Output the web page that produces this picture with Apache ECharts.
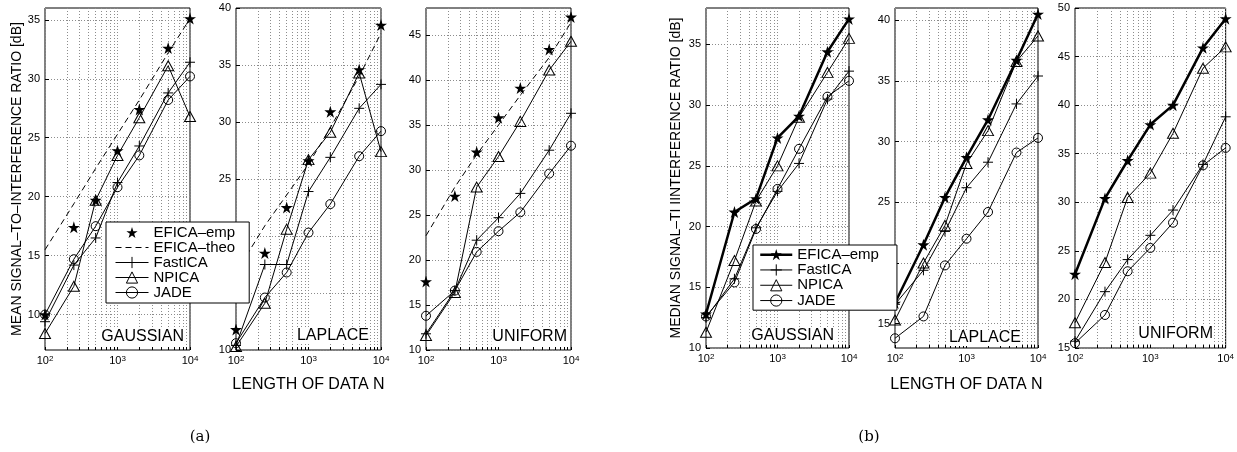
<!DOCTYPE html>
<html>
<head>
<meta charset="utf-8">
<script src="https://cdn.jsdelivr.net/npm/echarts@6/dist/echarts.min.js"></script>
<style>
  html, body { margin: 0; padding: 0; background: #fff; }
  #chart { width: 1237px; height: 452px; }
</style>
</head>
<body>
<div id="chart"></div>
<script>
// length of data N (x axis is log10)
const dataLength = [100, 250, 500, 1000, 2000, 5000, 10000]
const xTickValues = [100, 200, 300, 400, 500, 600, 700, 800, 900, 1000,
  2000, 3000, 4000, 5000, 6000, 7000, 8000, 9000, 10000]
const xLabelValues = [100, 1000, 10000]
const panelNames = ['GAUSSIAN', 'LAPLACE', 'UNIFORM']

// (a) mean SIR [dB]
const meanGaussEmp = [10.0, 17.4, 19.7, 23.9, 27.4, 32.6, 35.1]
const meanGaussTheo = [15.5, 19.4, 22.4, 25.3, 28.2, 32.2, 35.1]
const meanGaussFast = [9.4, 14.2, 16.5, 21.2, 24.3, 28.8, 31.4]
const meanGaussNpica = [8.4, 12.4, 19.7, 23.5, 26.7, 31.1, 26.8]
const meanGaussJade = [10.0, 14.7, 17.5, 20.8, 23.5, 28.2, 30.2]

const meanLaplEmp = [11.8, 18.5, 22.5, 26.6, 30.9, 34.6, 38.5]
const meanLaplTheo = [16.8, 20.9, 23.6, 26.3, 29.5, 34.0, 37.8]
const meanLaplFast = [10.4, 17.5, 17.5, 23.9, 26.9, 31.2, 33.3]
const meanLaplNpica = [10.3, 14.1, 20.6, 26.7, 29.1, 34.3, 27.4]
const meanLaplJade = [10.6, 14.6, 16.8, 20.3, 22.8, 27.0, 29.2]

const meanUnifEmp = [17.6, 27.1, 32.0, 35.8, 39.1, 43.4, 47.0]
const meanUnifTheo = [22.7, 28.1, 31.7, 35.0, 38.3, 42.5, 46.4]
const meanUnifFast = [11.8, 16.6, 22.2, 24.7, 27.4, 32.2, 36.3]
const meanUnifNpica = [11.6, 16.4, 28.1, 31.5, 35.4, 41.1, 44.3]
const meanUnifJade = [13.8, 16.6, 20.9, 23.2, 25.3, 29.6, 32.7]

// (b) median SIR [dB]
const medGaussEmp = [12.8, 21.2, 22.3, 27.3, 29.1, 34.4, 37.1]
const medGaussFast = [12.5, 15.7, 19.9, 22.9, 25.2, 30.5, 32.8]
const medGaussNpica = [11.3, 17.2, 22.1, 25.0, 29.0, 32.7, 35.5]
const medGaussJade = [12.6, 15.4, 19.8, 23.1, 26.4, 30.7, 32.0]

const medLaplEmp = [16.7, 21.5, 25.4, 28.7, 31.8, 36.7, 40.5]
const medLaplFast = [16.6, 19.4, 22.6, 26.2, 28.3, 33.1, 35.4]
const medLaplNpica = [15.3, 20.0, 23.1, 28.2, 30.9, 36.6, 38.7]
const medLaplJade = [13.8, 15.6, 19.8, 22.0, 24.2, 29.1, 30.3]

const medUnifEmp = [22.6, 30.4, 34.3, 38.0, 40.0, 45.9, 48.9]
const medUnifFast = [15.7, 20.8, 24.1, 26.6, 29.2, 33.9, 38.8]
const medUnifNpica = [17.6, 23.8, 30.5, 33.0, 37.1, 43.8, 46.0]
const medUnifJade = [15.5, 18.4, 22.9, 25.3, 27.9, 33.8, 35.6]

// y ranges and ticks per panel
const yRanges = [[7, 36], [10, 40], [10, 48], [10, 38], [13, 41], [15, 50]]
const yTicks = [
  [10, 15, 20, 25, 30, 35],
  [10, 15, 20, 25, 30, 35, 40],
  [10, 15, 20, 25, 30, 35, 40, 45],
  [10, 15, 20, 25, 30, 35],
  [15, 20, 25, 30, 35, 40],
  [15, 20, 25, 30, 35, 40, 45, 50],
]

const FONT = '"Liberation Sans", Arial, Helvetica, sans-serif'
const STAR = 'path://M50,0L61.2,34.5L97.6,34.5L68.2,55.9L79.4,90.5L50,69.1L20.6,90.5L31.8,55.9L2.4,34.5L38.8,34.5Z'
const PLUS = 'path://M0,50L100,50M50,0L50,100'
const EMP = 'EFICA–emp'
const THEO = 'EFICA–theo'

const grids = [
  { left: 45, top: 8, width: 145, height: 342 },
  { left: 236, top: 8, width: 145, height: 342 },
  { left: 426, top: 8, width: 145, height: 342 },
  { left: 706, top: 8, width: 143, height: 340 },
  { left: 895, top: 8, width: 143, height: 340 },
  { left: 1075, top: 8, width: 153, height: 340 },
]

const lg = n => +Math.log10(n).toFixed(6)

const markStyle = {
  [EMP]: { symbol: STAR, size: 12, fill: '#000', border: 0 },
  [THEO]: { symbol: 'none', size: 0, fill: '#000', border: 0, dash: true },
  FastICA: { symbol: PLUS, size: 10, fill: '#000', border: 1 },
  NPICA: { symbol: 'triangle', size: [11, 10], fill: 'rgba(0,0,0,0)', border: 1 },
  JADE: { symbol: 'circle', size: 9, fill: 'rgba(0,0,0,0)', border: 1 },
}

function line (name, values, p, width) {
  const st = markStyle[name]
  return {
    type: 'line',
    name,
    xAxisIndex: p,
    yAxisIndex: p,
    data: dataLength.map((n, i) => [lg(n), values[i]]),
    symbol: st.symbol,
    symbolSize: st.size,
    showSymbol: st.symbol !== 'none',
    showAllSymbol: true,
    clip: false,
    silent: true,
    lineStyle: { color: '#000', width, type: st.dash ? [6, 4] : 'solid' },
    itemStyle: { color: st.fill, borderColor: '#000', borderWidth: st.border },
    emphasis: { disabled: true },
  }
}

const series = [
  line(EMP, meanGaussEmp, 0, 0),
  line(THEO, meanGaussTheo, 0, 1),
  line('FastICA', meanGaussFast, 0, 1),
  line('NPICA', meanGaussNpica, 0, 1),
  line('JADE', meanGaussJade, 0, 1),

  line(EMP, meanLaplEmp, 1, 0),
  line(THEO, meanLaplTheo, 1, 1),
  line('FastICA', meanLaplFast, 1, 1),
  line('NPICA', meanLaplNpica, 1, 1),
  line('JADE', meanLaplJade, 1, 1),

  line(EMP, meanUnifEmp, 2, 0),
  line(THEO, meanUnifTheo, 2, 1),
  line('FastICA', meanUnifFast, 2, 1),
  line('NPICA', meanUnifNpica, 2, 1),
  line('JADE', meanUnifJade, 2, 1),

  line(EMP, medGaussEmp, 3, 2.5),
  line('FastICA', medGaussFast, 3, 1),
  line('NPICA', medGaussNpica, 3, 1),
  line('JADE', medGaussJade, 3, 1),

  line(EMP, medLaplEmp, 4, 2.5),
  line('FastICA', medLaplFast, 4, 1),
  line('NPICA', medLaplNpica, 4, 1),
  line('JADE', medLaplJade, 4, 1),

  line(EMP, medUnifEmp, 5, 2.5),
  line('FastICA', medUnifFast, 5, 1),
  line('NPICA', medUnifNpica, 5, 1),
  line('JADE', medUnifJade, 5, 1),
]

const gridLine = { show: true, lineStyle: { color: '#8c8c8c', width: 1, type: [1, 2] } }

const xAxis = grids.map((g, i) => ({
  type: 'value',
  gridIndex: i,
  min: 2,
  max: 4,
  axisLine: { show: false },
  axisTick: { show: true, inside: true, length: 3, customValues: xTickValues.map(lg), lineStyle: { color: '#000' } },
  axisLabel: {
    customValues: xLabelValues.map(lg),
    margin: 5,
    formatter: v => '{b|10}{s|' + Math.round(v) + '}',
    rich: {
      b: { fontFamily: FONT, fontSize: 11, color: '#000' },
      s: { fontFamily: FONT, fontSize: 8, color: '#000', verticalAlign: 'top' },
    },
  },
  splitLine: gridLine,
  name: (i === 1 || i === 4) ? 'LENGTH OF DATA N' : '',
  nameLocation: 'middle',
  nameGap: i === 1 ? 27 : 29,
  nameTextStyle: { fontFamily: FONT, fontSize: 16, color: '#000' },
}))

const yAxis = grids.map((g, i) => ({
  type: 'value',
  gridIndex: i,
  min: yRanges[i][0],
  max: yRanges[i][1],
  axisLine: { show: false },
  axisTick: { show: true, inside: true, length: 4, customValues: yTicks[i], lineStyle: { color: '#000' } },
  axisLabel: { customValues: yTicks[i], margin: 5, fontFamily: FONT, fontSize: 11, color: '#000' },
  splitLine: gridLine,
  name: i === 0 ? 'MEAN SIGNAL–TO–INTERFERENCE RATIO [dB]'
    : i === 3 ? 'MEDIAN SIGNAL–TI IINTERFERENCE RATIO [dB]' : '',
  nameLocation: 'middle',
  nameRotate: 90,
  nameGap: i === 0 ? 21 : 23,
  nameTextStyle: { fontFamily: FONT, fontSize: 14, color: '#000' },
}))

const legendBase = {
  orient: 'vertical',
  itemGap: 0,
  itemHeight: 14,
  backgroundColor: '#fff',
  borderColor: '#000',
  borderWidth: 1,
  borderRadius: 0,
  selectedMode: false,
  lineStyle: { width: 'inherit' },
  itemStyle: { borderWidth: 'inherit' },
  z: 10,
}

const legend = [
  Object.assign({}, legendBase, {
    left: 106,
    top: 222,
    padding: [3, 14, 3, 9],
    itemWidth: 33,
    textStyle: { fontFamily: FONT, fontSize: 15, color: '#000', lineHeight: 15 },
    data: [EMP, { name: THEO, itemStyle: { opacity: 0 } }, 'FastICA', 'NPICA', 'JADE'],
  }),
  Object.assign({}, legendBase, {
    left: 753,
    top: 245,
    padding: [2, 18, 2, 6],
    itemWidth: 32,
    textStyle: { fontFamily: FONT, fontSize: 15, color: '#000', lineHeight: 15.3 },
    data: [{ name: EMP, lineStyle: { width: 2.5 } }, 'FastICA', 'NPICA', 'JADE'],
  }),
]

// panel names inside bottom-right corners
const labelPos = [[185, 337], [370, 336], [568, 337], [835, 336], [1022, 338], [1214, 334]]
const graphic = labelPos.map((pos, i) => ({
  type: 'text',
  x: pos[0],
  y: pos[1],
  z: 5,
  style: {
    text: panelNames[i % 3],
    font: '16px ' + FONT,
    fill: '#000',
    align: 'right',
    verticalAlign: 'middle',
    backgroundColor: '#fff',
    padding: [0, 1],
  },
})).concat([
  { type: 'text', x: 200, y: 437, style: { text: '(a)', font: '15px "DejaVu Serif", serif', fill: '#000', align: 'center', verticalAlign: 'middle' } },
  { type: 'text', x: 869, y: 437, style: { text: '(b)', font: '15px "DejaVu Serif", serif', fill: '#000', align: 'center', verticalAlign: 'middle' } },
])

const chart = echarts.init(document.getElementById('chart'), null, { renderer: 'canvas' })
chart.setOption({
  animation: false,
  backgroundColor: '#fff',
  grid: grids.map(g => Object.assign({ show: true, borderColor: '#000', borderWidth: 1, backgroundColor: 'transparent' }, g)),
  xAxis,
  yAxis,
  legend,
  graphic,
  series,
})
</script>
</body>
</html>
